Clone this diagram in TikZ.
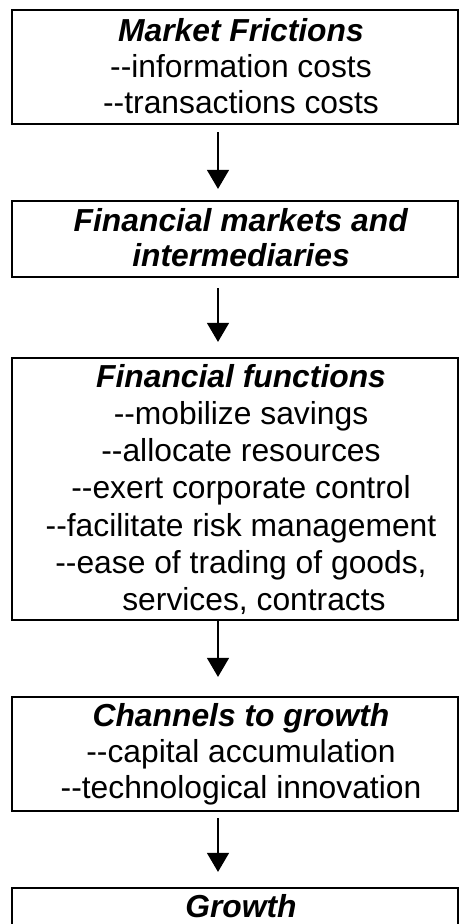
\documentclass[tikz,border=0pt]{standalone}
\usepackage{fontspec}
\setmainfont{Liberation Sans}
\usetikzlibrary{arrows.meta}
\tikzset{
    stagebox/.style = {draw=black, line width=2.2pt, rectangle, minimum width=446pt, inner sep=0pt},
    stagetext/.style = {anchor=base, inner sep=0pt, font=\fontsize{31.8}{36}\selectfont},
    flow/.style = {line width=1.2pt, -{Triangle[width=22pt,length=19pt]}},
}
\newcommand{\stagetitle}[1]{\textbf{\textit{#1}}}

\begin{document}
\begin{tikzpicture}
\useasboundingbox (0,0) rectangle (460pt,-924pt);
% boxes
\node[stagebox, minimum height=114pt] (frictions) at (235pt,-67pt) {};
\node[stagebox, minimum height=76pt] (markets) at (235pt,-239pt) {};
\node[stagebox, minimum height=262pt] (functions) at (235pt,-489pt) {};
\node[stagebox, minimum height=114pt] (channels) at (235pt,-754pt) {};
\node[stagebox, minimum height=72pt] (growth) at (235pt,-924pt) {};
% texts
\node[stagetext] (frictionstext) at (241pt,-41.5pt) {\begin{tabular}[t]{@{}c@{}}
    \stagetitle{Market Frictions}\\
    -{}-information costs\\
    -{}-transactions costs
\end{tabular}};
\node[stagetext, font=\fontsize{31.8}{35}\selectfont] (marketstext) at (241pt,-231.5pt) {\begin{tabular}[t]{@{}c@{}}
    \stagetitle{Financial markets and}\\
    \stagetitle{intermediaries}
\end{tabular}};
\node[stagetext, font=\fontsize{31.8}{37.3}\selectfont] (functionstext) at (241pt,-387pt) {\begin{tabular}[t]{@{}c@{}}
    \stagetitle{Financial functions}\\
    -{}-mobilize savings\\
    -{}-allocate resources\\
    -{}-exert corporate control\\
    -{}-facilitate risk management\\
    -{}-ease of trading of goods,\\
    \hspace*{26pt}services, contracts
\end{tabular}};
\node[stagetext] (channelstext) at (241pt,-726pt) {\begin{tabular}[t]{@{}c@{}}
    \stagetitle{Channels to growth}\\
    -{}-capital accumulation\\
    -{}-technological innovation
\end{tabular}};
\node[stagetext] (growthtext) at (241pt,-917pt) {\stagetitle{Growth}};
% arrows
\draw[flow, shorten <=7pt, shorten >=11pt] ([xshift=-17pt]frictions.south) -- ([xshift=-17pt]markets.north);
\draw[flow, shorten <=10pt, shorten >=15pt] ([xshift=-17pt]markets.south) -- ([xshift=-17pt]functions.north);
\draw[flow, shorten >=19pt] ([xshift=-17pt]functions.south) -- ([xshift=-17pt]channels.north);
\draw[flow, shorten <=6pt, shorten >=15pt] ([xshift=-17pt]channels.south) -- ([xshift=-17pt]growth.north);
\end{tikzpicture}
\end{document}
